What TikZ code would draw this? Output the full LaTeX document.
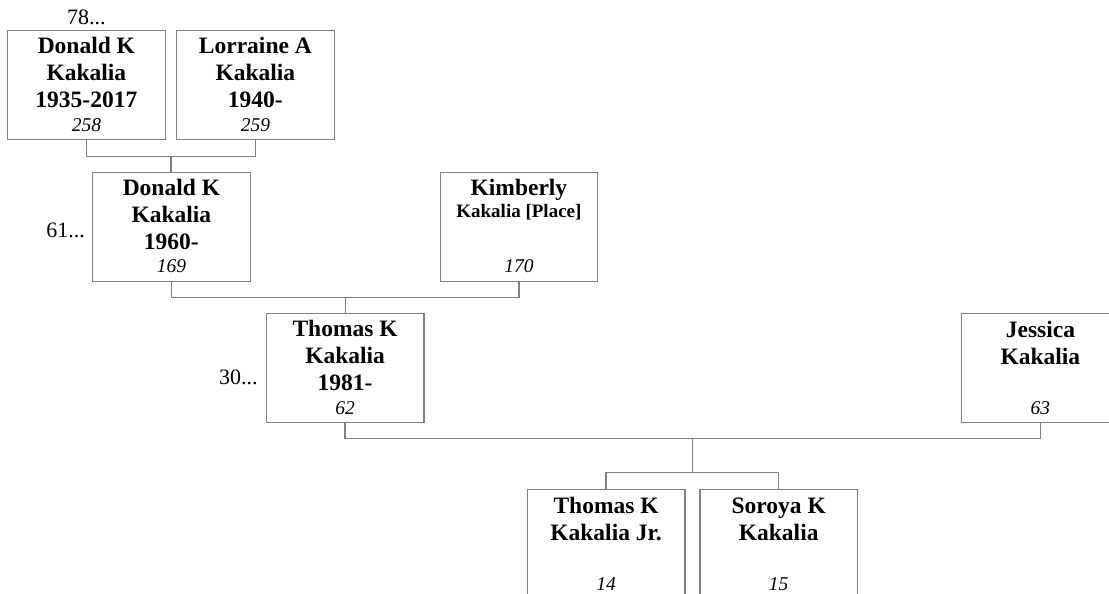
\documentclass[tikz,border=0pt]{standalone}
\usepackage{fontspec}
\setmainfont{Liberation Serif}
\usetikzlibrary{calc}
\definecolor{linegray}{RGB}{128,128,128}
\tikzset{
  card/.style={draw=linegray, line width=1.3pt, minimum width=157.5pt, minimum height=109pt, inner sep=0pt, anchor=north west},
  nm/.style={anchor=base, inner sep=0pt, font=\fontsize{23.5}{27}\selectfont\bfseries},
  num/.style={anchor=base, inner sep=0pt, font=\fontsize{19.5}{22}\selectfont\itshape},
  gen/.style={inner sep=0pt, font=\fontsize{22}{24}\selectfont},
  conn/.style={draw=linegray, line width=1.3pt},
}
\newcommand\famcard[5]{%
  \node[card] (#1) at (#2,#3) {};
  \node[nm] (#1n) at ([yshift=-24pt]#1.north) {\begin{tabular}[t]{@{}c@{}}#4\end{tabular}};
  \node[num] (#1k) at ([yshift=9pt]#1.south) {#5};
}
\begin{document}
\begin{tikzpicture}[x=1pt,y=1pt]
\useasboundingbox[fill=white] (0,0) rectangle (1109,-594);

\famcard{b1}{7}{-30}{Donald K\\Kakalia\\1935-2017}{258}
\famcard{b2}{176}{-30}{Lorraine A\\Kakalia\\1940-}{259}
\famcard{b3}{92}{-171.5}{Donald K\\Kakalia\\1960-}{169}
\famcard{b4}{439.5}{-171.5}{Kimberly\\[-5pt]{\fontsize{19}{22}\selectfont Kakalia [Place]}}{170}
\famcard{b5}{265.7}{-312.7}{Thomas K\\Kakalia\\1981-}{62}
\famcard{b6}{961}{-313}{Jessica\\Kakalia}{63}
\famcard{b7}{526.7}{-489}{Thomas K\\Kakalia Jr.}{14}
\famcard{b8}{699.3}{-489}{Soroya K\\Kakalia}{15}

\node[gen, anchor=base] (g1) at ([yshift=5pt]b1.north) {78...};
\node[gen, anchor=base east] (g2) at ([xshift=-7pt,yshift=-65.5pt]b3.north west) {61...};
\node[gen, anchor=base east] (g3) at ([xshift=-8pt,yshift=-72pt]b5.north west) {30...};

% connectors
\coordinate (j1) at ($(b1.south)!0.5!(b2.south)+(0,-16)$);
\draw[conn] (b1.south) |- (j1) -| (b2.south);
\draw[conn] (j1) -- (j1 |- b3.north);

\coordinate (j2) at ($(b3.south)!0.5!(b4.south)+(0,-16)$);
\draw[conn] (b3.south) |- (j2) -| (b4.south);
\draw[conn] (j2) -- (j2 |- b5.north);

\coordinate (j3) at ($(b5.south)!0.5!(b6.south)+(0,-15)$);
\draw[conn] (b5.south) |- (j3) -| (b6.south);
\coordinate (j4) at ($(b7.north)!0.5!(b8.north)+(0,16.5)$);
\draw[conn] (j3) -- (j3 |- j4);
\draw[conn] (b7.north) |- (j4) -| (b8.north);
\end{tikzpicture}
\end{document}
